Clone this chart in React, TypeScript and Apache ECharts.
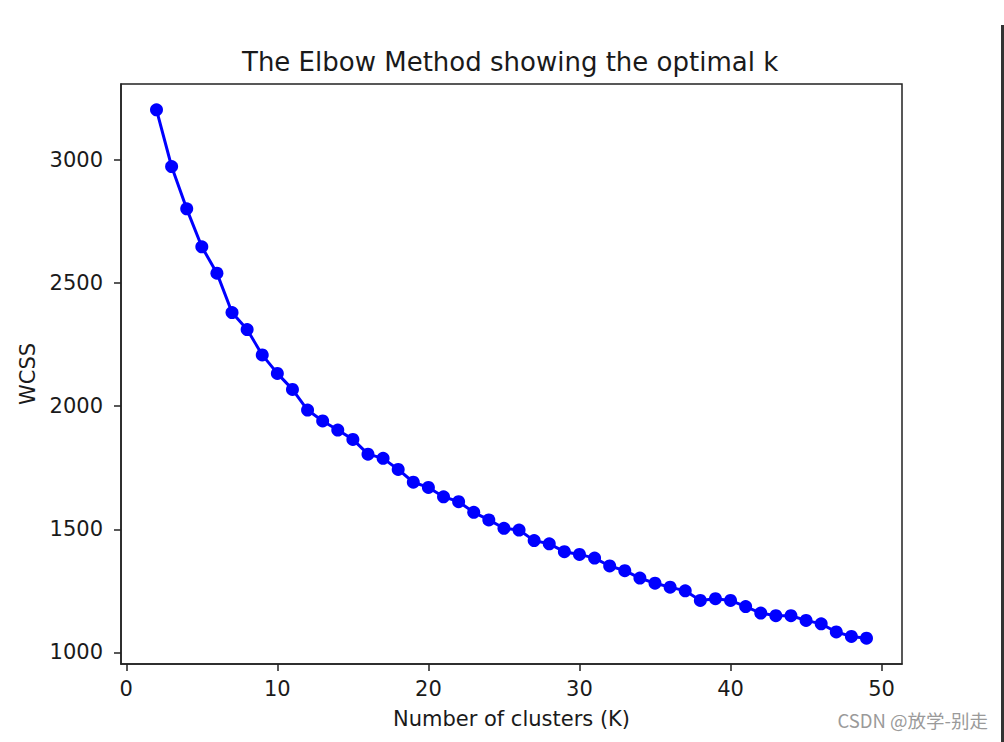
import React, { useEffect, useRef } from "react";
import * as echarts from "echarts";

const clusters: number[] = [2, 3, 4, 5, 6, 7, 8, 9, 10, 11, 12, 13, 14, 15, 16, 17, 18, 19, 20, 21, 22, 23, 24, 25, 26, 27, 28, 29, 30, 31, 32, 33, 34, 35, 36, 37, 38, 39, 40, 41, 42, 43, 44, 45, 46, 47, 48, 49];
const wcss: number[] = [3203, 2973, 2801, 2647, 2540, 2380, 2311, 2208, 2133, 2068, 1984, 1940, 1903, 1865, 1805, 1788, 1743, 1691, 1670, 1632, 1612, 1569, 1538, 1504, 1497, 1454, 1441, 1409, 1398, 1383, 1351, 1332, 1302, 1281, 1265, 1250, 1211, 1218, 1211, 1186, 1160, 1149, 1149, 1130, 1116, 1083, 1065, 1058];
const xTicks: number[] = [0, 10, 20, 30, 40, 50];
const yTicks: number[] = [1000, 1500, 2000, 2500, 3000];

const TITLE = "The Elbow Method showing the optimal k";
const X_NAME = "Number of clusters (K)";
const Y_NAME = "WCSS";
const WATERMARK = "CSDN @放学-别走";

const FONT = "DejaVu Sans";
const TEXT_COLOR = "#1a1a1a";

export default function App() {
  const ref = useRef<HTMLDivElement>(null);

  useEffect(() => {
    if (!ref.current) return;
    const chart = echarts.init(ref.current, undefined, { renderer: "svg" });
    const points = clusters.map((k, i) => [k, wcss[i]]);
    chart.setOption({
      animation: false,
      backgroundColor: "#ffffff",
      title: {
        text: TITLE,
        left: 237,
        top: 44,
        textStyle: {
          fontFamily: FONT,
          fontSize: 26,
          fontWeight: "normal",
          color: TEXT_COLOR,
          lineHeight: 26,
        },
      },
      grid: {
        left: 121,
        right: 102,
        top: 84,
        bottom: 78,
        show: true,
        borderColor: "#222",
        borderWidth: 1.5,
        backgroundColor: "transparent",
      },
      xAxis: {
        type: "value",
        min: -0.35,
        max: 51.35,
        name: X_NAME,
        nameLocation: "middle",
        nameGap: 44,
        nameTextStyle: { fontFamily: FONT, fontSize: 21, color: TEXT_COLOR },
        axisLine: { show: true, onZero: false, lineStyle: { color: "#222", width: 1.5 } },
        axisTick: { show: true, inside: false, length: 7, customValues: xTicks, lineStyle: { color: "#222", width: 1.5 } },
        axisLabel: { customValues: xTicks, margin: 14, fontFamily: FONT, fontSize: 21, color: TEXT_COLOR, formatter: (v: number) => String(v) },
        splitLine: { show: false },
      },
      yAxis: {
        type: "value",
        min: 953,
        max: 3308,
        name: Y_NAME,
        nameLocation: "middle",
        nameGap: 67,
        nameTextStyle: { fontFamily: FONT, fontSize: 21, color: TEXT_COLOR },
        axisLine: { show: true, onZero: false, lineStyle: { color: "#222", width: 1.5 } },
        axisTick: { show: true, inside: false, length: 7, customValues: yTicks, lineStyle: { color: "#222", width: 1.5 } },
        axisLabel: { customValues: yTicks, margin: 18, fontFamily: FONT, fontSize: 21, color: TEXT_COLOR, formatter: (v: number) => String(v) },
        splitLine: { show: false },
      },
      series: [
        {
          type: "line",
          data: points,
          symbol: "circle",
          symbolSize: 13,
          showSymbol: true,
          itemStyle: { color: "#0000ff" },
          lineStyle: { color: "#0000ff", width: 3 },
          clip: false,
        },
      ],
      graphic: [
        {
          type: "text",
          right: 16,
          top: 711,
          style: {
            text: WATERMARK,
            fontFamily: "Noto Sans CJK SC",
            fontSize: 18.5,
            fill: "#9a9a9a",
          },
        },
        {
          type: "rect",
          shape: { x: 1001, y: 25, width: 3, height: 717 },
          style: { fill: "#333" },
        },
      ],
    });
    return () => chart.dispose();
  }, []);

  return (
    <div
      ref={ref}
      style={{ position: "absolute", left: 0, top: 0, width: 1004, height: 742 }}
    />
  );
}
